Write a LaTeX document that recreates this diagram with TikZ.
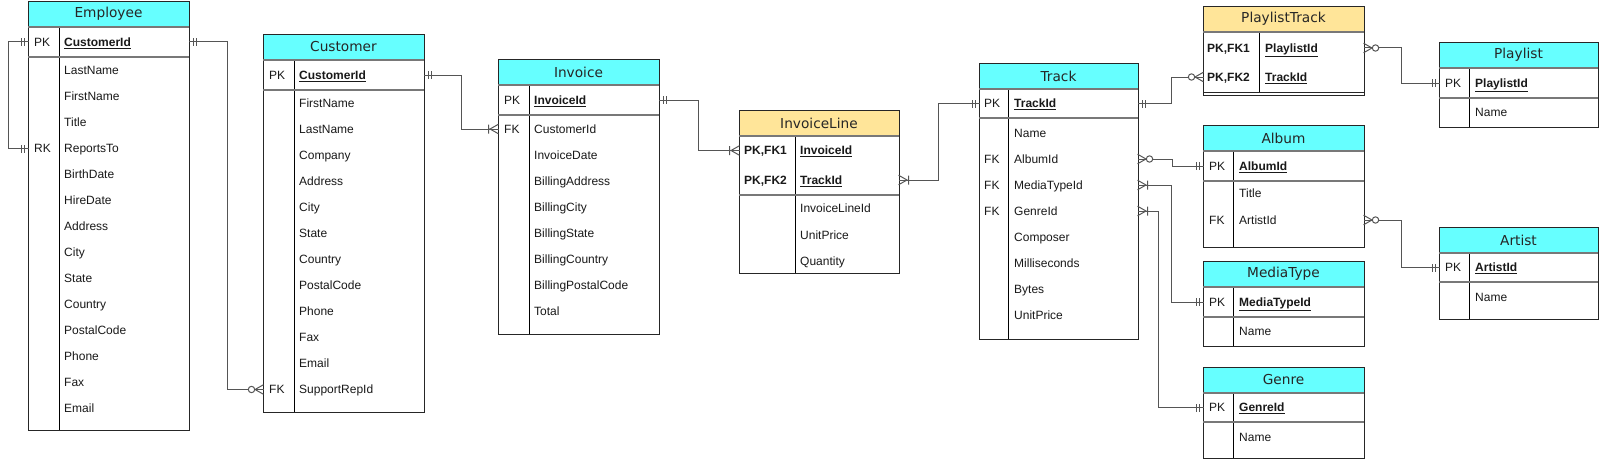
\documentclass[tikz,border=0pt]{standalone}
\usepackage{fontspec}
\setmainfont{Liberation Sans}
\newfontfamily\headfont{DejaVu Sans}
\usetikzlibrary{positioning,calc,decorations.markings}
\definecolor{entcyan}{RGB}{102,255,255}
\definecolor{linkyellow}{RGB}{255,229,153}
\definecolor{rulegray}{RGB}{120,120,120}
\definecolor{wiregray}{RGB}{85,85,85}

\begin{document}
\begin{tikzpicture}[
        x=1pt, y=-1pt,
        font=\fontsize{12}{14}\selectfont,
        tblhead/.style={rectangle, draw=black!85, fill=#1, line width=0.8pt, minimum height=26pt, inner sep=0pt, outer sep=0pt, anchor=north west, text=black!85, font=\headfont\fontsize{13.7}{16}\selectfont},
        tblpart/.style={rectangle, draw=black!85, fill=white, line width=0.8pt, minimum height=#1pt, inner sep=0pt, outer sep=0pt},
        coldiv/.style={draw=black, line width=0.8pt},
        rule/.style={draw=rulegray, line width=1.6pt},
        fld/.style={anchor=west, inner sep=0pt, text height=10.6pt, text depth=2pt, text=black!90},
        pkfld/.style={fld, font=\fontsize{12}{14}\selectfont\bfseries},
        conn/.style={draw=wiregray, line width=1pt, line cap=rect},
        mk/.style={draw=wiregray, line width=1pt},
        mand/.pic={\draw[mk] (-4,-3.5) -- (-4,3.5) (-7,-3.5) -- (-7,3.5);},
        onemany/.pic={\draw[mk] (0,-4.5) -- (-8,0) -- (0,4.5) (-9.5,-4) -- (-9.5,4);},
        zeromany/.pic={\draw[mk] (0,-4.5) -- (-8,0) -- (0,4.5); \draw[mk, fill=white] (-11.5,0) circle[radius=3.2];},
        src end/.style={postaction={decorate, decoration={markings, mark=at position 0.01pt with {\pic[xscale=-1]{#1};}}}},
        dst end/.style={postaction={decorate, decoration={markings, mark=at position 1 with {\pic{#1};}}}},
    ]
    \useasboundingbox (0,0) rectangle (1600,460);

    % Employee
    \node[tblhead=entcyan, minimum width=161pt] (emp) at (28,1) {Employee};
    \node[tblpart=30, minimum width=161pt, below=0pt of emp] (emp-keys) {};
    \node[tblpart=373, minimum width=161pt, below=0pt of emp-keys] (emp-attrs) {};
    \draw[coldiv] ([xshift=31pt]emp-keys.north west) -- ([xshift=31pt]emp-attrs.south west);
    \draw[rule] (emp.south west) -- (emp.south east) (emp-keys.south west) -- (emp-keys.south east);
    \node[fld] at ($(emp-keys.west)+(6,0)$) {PK};
    \node[pkfld] (emp-pk) at ($(emp-keys.west)+(36,0)$) {\underline{CustomerId}};
    \foreach \t [count=\i] in {LastName,FirstName,Title,ReportsTo,BirthDate,HireDate,Address,City,State,Country,PostalCode,Phone,Fax,Email}
        \node[fld] (emp-a\i) at ($(emp-keys.south west)+(36,13.5+26*\i-26)$) {\t};
    \node[fld] at ($(emp-a4.west)+(-30,0)$) {RK};

    % Customer
    \node[tblhead=entcyan, minimum width=161pt] (cus) at (263,34) {Customer};
    \node[tblpart=30, minimum width=161pt, below=0pt of cus] (cus-keys) {};
    \node[tblpart=322, minimum width=161pt, below=0pt of cus-keys] (cus-attrs) {};
    \draw[coldiv] ([xshift=31pt]cus-keys.north west) -- ([xshift=31pt]cus-attrs.south west);
    \draw[rule] (cus.south west) -- (cus.south east) (cus-keys.south west) -- (cus-keys.south east);
    \node[fld] at ($(cus-keys.west)+(6,0)$) {PK};
    \node[pkfld] (cus-pk) at ($(cus-keys.west)+(36,0)$) {\underline{CustomerId}};
    \foreach \t [count=\i] in {FirstName,LastName,Company,Address,City,State,Country,PostalCode,Phone,Fax,Email,SupportRepId}
        \node[fld] (cus-a\i) at ($(cus-keys.south west)+(36,13.5+26*\i-26)$) {\t};
    \node[fld] at ($(cus-a12.west)+(-30,0)$) {FK};

    % Invoice
    \node[tblhead=entcyan, minimum width=161pt] (inv) at (498,59) {Invoice};
    \node[tblpart=30, minimum width=161pt, below=0pt of inv] (inv-keys) {};
    \node[tblpart=219, minimum width=161pt, below=0pt of inv-keys] (inv-attrs) {};
    \draw[coldiv] ([xshift=31pt]inv-keys.north west) -- ([xshift=31pt]inv-attrs.south west);
    \draw[rule] (inv.south west) -- (inv.south east) (inv-keys.south west) -- (inv-keys.south east);
    \node[fld] at ($(inv-keys.west)+(6,0)$) {PK};
    \node[pkfld] (inv-pk) at ($(inv-keys.west)+(36,0)$) {\underline{InvoiceId}};
    \foreach \t [count=\i] in {CustomerId,InvoiceDate,BillingAddress,BillingCity,BillingState,BillingCountry,BillingPostalCode,Total}
        \node[fld] (inv-a\i) at ($(inv-keys.south west)+(36,14+26*\i-26)$) {\t};
    \node[fld] at ($(inv-a1.west)+(-30,0)$) {FK};

    % InvoiceLine
    \node[tblhead=linkyellow, minimum width=160pt] (il) at (739,110) {InvoiceLine};
    \node[tblpart=59, minimum width=160pt, below=0pt of il] (il-keys) {};
    \node[tblpart=78, minimum width=160pt, below=0pt of il-keys] (il-attrs) {};
    \draw[coldiv] ([xshift=56pt]il-keys.north west) -- ([xshift=56pt]il-attrs.south west);
    \draw[rule] (il.south west) -- (il.south east) (il-keys.south west) -- (il-keys.south east);
    \node[pkfld] at ($(il-keys.north west)+(5,14.5)$) {PK,FK1};
    \node[pkfld] (il-pk1) at ($(il-keys.north west)+(61,14.5)$) {\underline{InvoiceId}};
    \node[pkfld] at ($(il-keys.north west)+(5,44)$) {PK,FK2};
    \node[pkfld] (il-pk2) at ($(il-keys.north west)+(61,44)$) {\underline{TrackId}};
    \foreach \t [count=\i] in {InvoiceLineId,UnitPrice,Quantity}
        \node[fld] (il-a\i) at ($(il-keys.south west)+(61,13.5+26.5*\i-26.5)$) {\t};

    % Track
    \node[tblhead=entcyan, minimum width=159pt] (trk) at (979,63) {Track};
    \node[tblpart=29, minimum width=159pt, below=0pt of trk] (trk-keys) {};
    \node[tblpart=221, minimum width=159pt, below=0pt of trk-keys] (trk-attrs) {};
    \draw[coldiv] ([xshift=29pt]trk-keys.north west) -- ([xshift=29pt]trk-attrs.south west);
    \draw[rule] (trk.south west) -- (trk.south east) (trk-keys.south west) -- (trk-keys.south east);
    \node[fld] at ($(trk-keys.west)+(5,0)$) {PK};
    \node[pkfld] (trk-pk) at ($(trk-keys.west)+(35,0)$) {\underline{TrackId}};
    \foreach \t [count=\i] in {Name,AlbumId,MediaTypeId,GenreId,Composer,Milliseconds,Bytes,UnitPrice}
        \node[fld] (trk-a\i) at ($(trk-keys.south west)+(35,15+26*\i-26)$) {\t};
    \foreach \i in {2,3,4}
        \node[fld] at ($(trk-a\i.west)+(-30,0)$) {FK};

    % PlaylistTrack
    \node[tblhead=linkyellow, minimum width=161pt] (pt) at (1203,6) {PlaylistTrack};
    \node[tblpart=60, minimum width=161pt, below=0pt of pt] (pt-keys) {};
    \node[tblpart=3, minimum width=161pt, below=0pt of pt-keys] (pt-attrs) {};
    \draw[coldiv] ([xshift=56pt]pt-keys.north west) -- ([xshift=56pt]pt-keys.south west);
    \draw[rule] (pt.south west) -- (pt.south east);
    \node[pkfld] at ($(pt-keys.north west)+(4,16)$) {PK,FK1};
    \node[pkfld] (pt-pk1) at ($(pt-keys.north west)+(62,16)$) {\underline{PlaylistId}};
    \node[pkfld] at ($(pt-keys.north west)+(4,45)$) {PK,FK2};
    \node[pkfld] (pt-pk2) at ($(pt-keys.north west)+(62,45)$) {\underline{TrackId}};

    % Playlist
    \node[tblhead=entcyan, minimum width=159pt] (pl) at (1439,42) {Playlist};
    \node[tblpart=30, minimum width=159pt, below=0pt of pl] (pl-keys) {};
    \node[tblpart=29, minimum width=159pt, below=0pt of pl-keys] (pl-attrs) {};
    \draw[coldiv] ([xshift=30pt]pl-keys.north west) -- ([xshift=30pt]pl-attrs.south west);
    \draw[rule] (pl.south west) -- (pl.south east) (pl-keys.south west) -- (pl-keys.south east);
    \node[fld] at ($(pl-keys.west)+(6,0)$) {PK};
    \node[pkfld] (pl-pk) at ($(pl-keys.west)+(36,0)$) {\underline{PlaylistId}};
    \node[fld] (pl-a1) at ($(pl-attrs.west)+(36,0)$) {Name};

    % Album
    \node[tblhead=entcyan, minimum width=161pt] (alb) at (1203,125) {Album};
    \node[tblpart=30, minimum width=161pt, below=0pt of alb] (alb-keys) {};
    \node[tblpart=66, minimum width=161pt, below=0pt of alb-keys] (alb-attrs) {};
    \draw[coldiv] ([xshift=30pt]alb-keys.north west) -- ([xshift=30pt]alb-attrs.south west);
    \draw[rule] (alb.south west) -- (alb.south east) (alb-keys.south west) -- (alb-keys.south east);
    \node[fld] at ($(alb-keys.west)+(6,0)$) {PK};
    \node[pkfld] (alb-pk) at ($(alb-keys.west)+(36,0)$) {\underline{AlbumId}};
    \node[fld] (alb-a1) at ($(alb-keys.south west)+(36,12.5)$) {Title};
    \node[fld] (alb-a2) at ($(alb-keys.south west)+(36,39)$) {ArtistId};
    \node[fld] at ($(alb-a2.west)+(-30,0)$) {FK};

    % MediaType
    \node[tblhead=entcyan, minimum width=161pt] (mt) at (1203,261) {MediaType};
    \node[tblpart=30, minimum width=161pt, below=0pt of mt] (mt-keys) {};
    \node[tblpart=29, minimum width=161pt, below=0pt of mt-keys] (mt-attrs) {};
    \draw[coldiv] ([xshift=30pt]mt-keys.north west) -- ([xshift=30pt]mt-attrs.south west);
    \draw[rule] (mt.south west) -- (mt.south east) (mt-keys.south west) -- (mt-keys.south east);
    \node[fld] at ($(mt-keys.west)+(6,0)$) {PK};
    \node[pkfld] (mt-pk) at ($(mt-keys.west)+(36,0)$) {\underline{MediaTypeId}};
    \node[fld] (mt-a1) at ($(mt-attrs.west)+(36,0)$) {Name};

    % Genre
    \node[tblhead=entcyan, minimum width=161pt] (gen) at (1203,367) {Genre};
    \node[tblpart=29, minimum width=161pt, below=0pt of gen] (gen-keys) {};
    \node[tblpart=36, minimum width=161pt, below=0pt of gen-keys] (gen-attrs) {};
    \draw[coldiv] ([xshift=30pt]gen-keys.north west) -- ([xshift=30pt]gen-attrs.south west);
    \draw[rule] (gen.south west) -- (gen.south east) (gen-keys.south west) -- (gen-keys.south east);
    \node[fld] at ($(gen-keys.west)+(6,0)$) {PK};
    \node[pkfld] (gen-pk) at ($(gen-keys.west)+(36,0)$) {\underline{GenreId}};
    \node[fld] (gen-a1) at ($(gen-keys.south west)+(36,15)$) {Name};

    % Artist
    \node[tblhead=entcyan, minimum width=159pt] (art) at (1439,227) {Artist};
    \node[tblpart=29, minimum width=159pt, below=0pt of art] (art-keys) {};
    \node[tblpart=37, minimum width=159pt, below=0pt of art-keys] (art-attrs) {};
    \draw[coldiv] ([xshift=30pt]art-keys.north west) -- ([xshift=30pt]art-attrs.south west);
    \draw[rule] (art.south west) -- (art.south east) (art-keys.south west) -- (art-keys.south east);
    \node[fld] at ($(art-keys.west)+(6,0)$) {PK};
    \node[pkfld] (art-pk) at ($(art-keys.west)+(36,0)$) {\underline{ArtistId}};
    \node[fld] (art-a1) at ($(art-keys.south west)+(36,15)$) {Name};

    % relationships
    \coordinate (emp-loop) at ($(emp-pk -| emp.west)+(-20,0)$);
    \draw[conn, dst end=mand] (emp-loop) -- (emp-pk -| emp.west);
    \draw[conn, dst end=mand] (emp-loop) |- (emp-a4 -| emp.west);
    \draw[conn, src end=mand, dst end=zeromany] (emp-pk -| emp.east) -- ++(38,0) |- (cus-a12 -| cus.west);
    \draw[conn, src end=mand, dst end=onemany] (cus-pk -| cus.east) -- ++(37,0) |- (inv-a1 -| inv.west);
    \draw[conn, src end=mand, dst end=onemany] (inv-pk -| inv.east) -- ++(39,0) |- (il-pk1 -| il.west);
    \draw[conn, src end=onemany, dst end=mand] (il-pk2 -| il.east) -- ++(39,0) |- (trk-pk -| trk.west);
    \draw[conn, src end=mand, dst end=zeromany] (trk-pk -| trk.east) -- ++(33,0) |- (pt-pk2 -| pt.west);
    \draw[conn, src end=zeromany, dst end=mand] (pt-pk1 -| pt.east) -- ++(37,0) |- (pl-pk -| pl.west);
    \draw[conn, src end=zeromany, dst end=mand] (trk-a2 -| trk.east) -- ++(34,0) |- (alb-pk -| alb.west);
    \draw[conn, src end=onemany, dst end=mand] (trk-a3 -| trk.east) -- ++(33,0) |- (mt-pk -| mt.west);
    \draw[conn, src end=onemany, dst end=mand] (trk-a4 -| trk.east) -- ++(20,0) |- (gen-pk -| gen.west);
    \draw[conn, src end=zeromany, dst end=mand] (alb-a2 -| alb.east) -- ++(37,0) |- (art-pk -| art.west);
\end{tikzpicture}
\end{document}
